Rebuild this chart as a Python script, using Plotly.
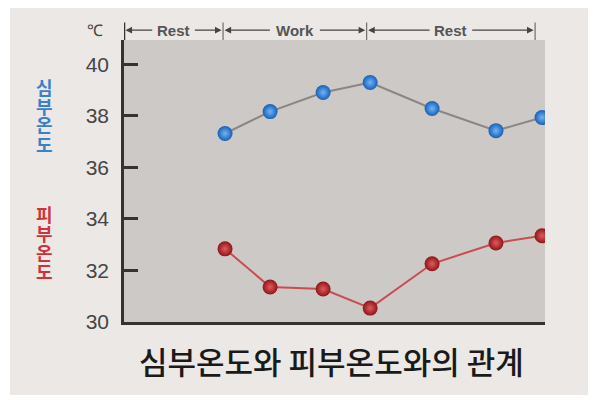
import plotly.graph_objects as go

# time (min) of each reading
minutes = [20.4, 29.5, 40.2, 49.7, 62.2, 75.1, 84.4]
core_temp = [37.32, 38.17, 38.91, 39.30, 38.29, 37.43, 37.94]   # 심부온도
skin_temp = [32.84, 31.36, 31.28, 30.54, 32.26, 33.07, 33.35]   # 피부온도

# periods shown above the plot
period_names = ["Rest", "Work", "Rest"]
period_start = [0, 20, 49]
period_end = [20, 49, 83]

y_ticks = [30, 32, 34, 36, 38, 40]
title_text = "심부온도와 피부온도와의 관계"
core_label = "심부온도"
skin_label = "피부온도"

KR_FONT = "Noto Sans CJK KR"
NUM_FONT = "Liberation Sans"

fig = go.Figure()

# core temperature (blue points, grey line)
fig.add_trace(go.Scatter(x=minutes, y=core_temp, mode="lines+markers",
                         line={'color': '#8a8683', 'width': 2},
                         marker={'size': 15, 'color': '#1660b8',
                                 'gradient': {'type': 'radial', 'color': '#72b4f4'},
                                 'line': {'width': 0}},
                         showlegend=False, hoverinfo='x+y'))
# skin temperature (red)
fig.add_trace(go.Scatter(x=minutes, y=skin_temp, mode="lines+markers",
                         line={'color': '#c84d52', 'width': 2},
                         marker={'size': 15, 'color': '#8e1519',
                                 'gradient': {'type': 'radial', 'color': '#e25a5f'},
                                 'line': {'width': 0}},
                         showlegend=False, hoverinfo='x+y'))

# the page puts the figure 8px in from the corner, so the figure is a bit smaller
fig.update_layout(width=592, height=392,
                  margin={'l': 116, 'r': 55, 't': 32, 'b': 78},
                  paper_bgcolor='white', plot_bgcolor='#cdc9c6')

fig.update_xaxes(range=[0, 85], showline=True, linewidth=2.5, linecolor='#333333',
                 showgrid=False, zeroline=False, showticklabels=False, ticks='')
fig.update_yaxes(range=[30, 40.95], tickvals=y_ticks, showline=True, linewidth=2.5,
                 linecolor='#333333', showgrid=False, zeroline=False,
                 ticks='inside', ticklen=14, tickwidth=2.5, tickcolor='#333333',
                 ticklabelstandoff=8,
                 tickfont={'family': NUM_FONT, 'size': 21, 'color': '#454545'})

# background panel, then the plot area again on top of it
fig.add_shape(type='rect', xref='paper', yref='paper', x0=-0.271, x1=1.102,
              y0=-0.259, y1=1.2, layer='below', line={'width': 0}, fillcolor='#ebe8e5')
fig.add_shape(type='rect', xref='paper', yref='paper', x0=0, x1=1, y0=0, y1=1,
              layer='below', line={'width': 0}, fillcolor='#cdc9c6')

# header: |<- Rest ->|<- Work ->|<- Rest ->|
y_head = 1.035
half_w = {"Rest": 4.0, "Work": 4.75}
fig.add_shape(type='line', xref='x', yref='paper', x0=0, x1=0, y0=1.0, y1=1.062,
              line={'color': '#333333', 'width': 2.5})
for name, s, e in zip(period_names, period_start, period_end):
    mid = (s + e) / 2.0
    fig.add_annotation(text=name, x=mid, y=y_head, xref='x', yref='paper',
                       xanchor='center', yanchor='middle', showarrow=False,
                       font={'family': NUM_FONT, 'size': 15, 'color': '#555555',
                             'weight': 'bold'})
    for tip, tail in [(s + 0.3, mid - half_w[name]), (e - 0.3, mid + half_w[name])]:
        fig.add_annotation(text='', x=tip, y=y_head, xref='x', yref='paper',
                           ax=tail, ay=0, axref='x', ayref='pixel',
                           showarrow=True, arrowhead=2, arrowsize=1.1, arrowwidth=1.2,
                           arrowcolor='#444444', standoff=0, startstandoff=0)
    fig.add_shape(type='line', xref='x', yref='paper', x0=e, x1=e, y0=1.0, y1=1.062,
                  line={'color': '#555555', 'width': 1})

# unit
fig.add_annotation(text="℃", x=-0.069, y=1.035, xref='paper', yref='paper',
                   xanchor='center', yanchor='middle', showarrow=False,
                   font={'family': NUM_FONT, 'size': 16, 'color': '#444444'})

# vertical series labels, one character per step (tight spacing like the original)
for i, ch in enumerate(core_label):
    fig.add_annotation(text=ch, x=-0.188, y=(322 - 86.5 - 19 * i) / 282.0,
                       xref='paper', yref='paper', xanchor='center', yanchor='middle',
                       showarrow=False,
                       font={'family': KR_FONT, 'size': 18, 'color': '#3a80c8', 'weight': 'bold'})
for i, ch in enumerate(skin_label):
    fig.add_annotation(text=ch, x=-0.188, y=(322 - 214 - 19 * i) / 282.0,
                       xref='paper', yref='paper', xanchor='center', yanchor='middle',
                       showarrow=False,
                       font={'family': KR_FONT, 'size': 18, 'color': '#cc343b', 'weight': 'bold'})

# caption under the chart
fig.add_annotation(text=title_text, x=0.494, y=-0.135, xref='paper', yref='paper',
                   xanchor='center', yanchor='middle', showarrow=False,
                   font={'family': KR_FONT, 'size': 31, 'color': '#1a1a1a', 'weight': 500})

fig.write_html("out.html")
